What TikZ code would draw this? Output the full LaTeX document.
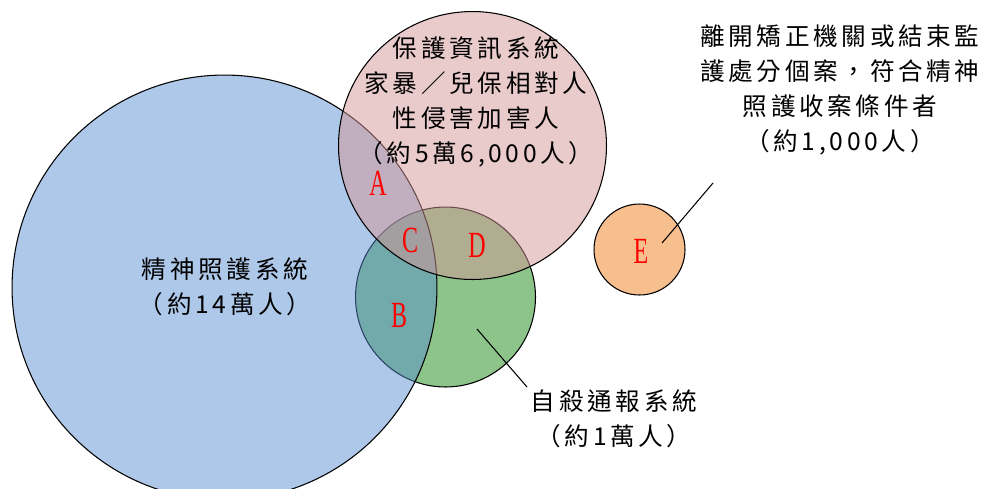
\documentclass[tikz,border=0pt]{standalone}
\usepackage{fontspec}
\usepackage{xcolor}
\usetikzlibrary{positioning}
\newfontfamily\cjk[LetterSpace=15]{Noto Sans CJK TC}
\newfontfamily\tagfont[FakeStretch=0.65]{Liberation Serif}

\definecolor{mentalblue}{RGB}{86,140,209}
\definecolor{protpink}{RGB}{213,151,151}
\definecolor{suigreen}{RGB}{140,196,138}
\definecolor{releaseorange}{RGB}{248,191,142}

\tikzset{
    region/.style={circle, draw=black, line width=0.6pt, inner sep=0pt},
    caption/.style={align=center, font=\cjk\fontsize{14}{20}\selectfont},
    tag/.style={text=red, font=\tagfont\fontsize{21}{21}\selectfont},
}

\begin{document}
\begin{tikzpicture}[x=0.02cm, y=-0.02cm]
    \useasboundingbox (0,0) rectangle (986,488);

    % Circles, bottom to top
    \node[region, fill=suigreen, minimum size=3.6cm] (suicide) at (445.5,297) {};
    \node[region, fill=mentalblue, fill opacity=0.48, minimum size=8.5cm] (mental) at (224.5,287.5) {};
    \node[region, fill=protpink, fill opacity=0.5, minimum size=5.36cm] (protect) at (472.5,145.5) {};
    \node[region, fill=releaseorange, minimum size=1.82cm] (release) at (639.5,249.5) {};

    % Region letters
    \node[tag] (tagA) at (378,183) {A};
    \node[tag] (tagB) at (399,315) {B};
    \node[tag] (tagC) at (410,240) {C};
    \node[tag] (tagD) at (477,245) {D};
    \node[tag] (tagE) at (641,251) {E};

    % Captions
    \node[caption] (mentalLbl) at (225,287) {精神照護系統\\（約14萬人）};
    \node[caption] (protectLbl) at (476,102) {保護資訊系統\\家暴／兒保相對人\\性侵害加害人\\（約5萬6,000人）};
    \node[caption] (suicideLbl) at (614,418.5) {自殺通報系統\\（約1萬人）};
    \node[caption] (releaseLbl) at (840,90) {離開矯正機關或結束監\\護處分個案，符合精神\\照護收案條件者\\（約1,000人）};

    % Leader lines
    \coordinate (suiIn) at (477,329);
    \coordinate (suiOut) at (527,387);
    \coordinate (relIn) at (662,243);
    \coordinate (relOut) at (713,183);
    \draw[line width=0.6pt] (suiIn) -- (suiOut);
    \draw[line width=0.6pt] (relIn) -- (relOut);
\end{tikzpicture}
\end{document}
